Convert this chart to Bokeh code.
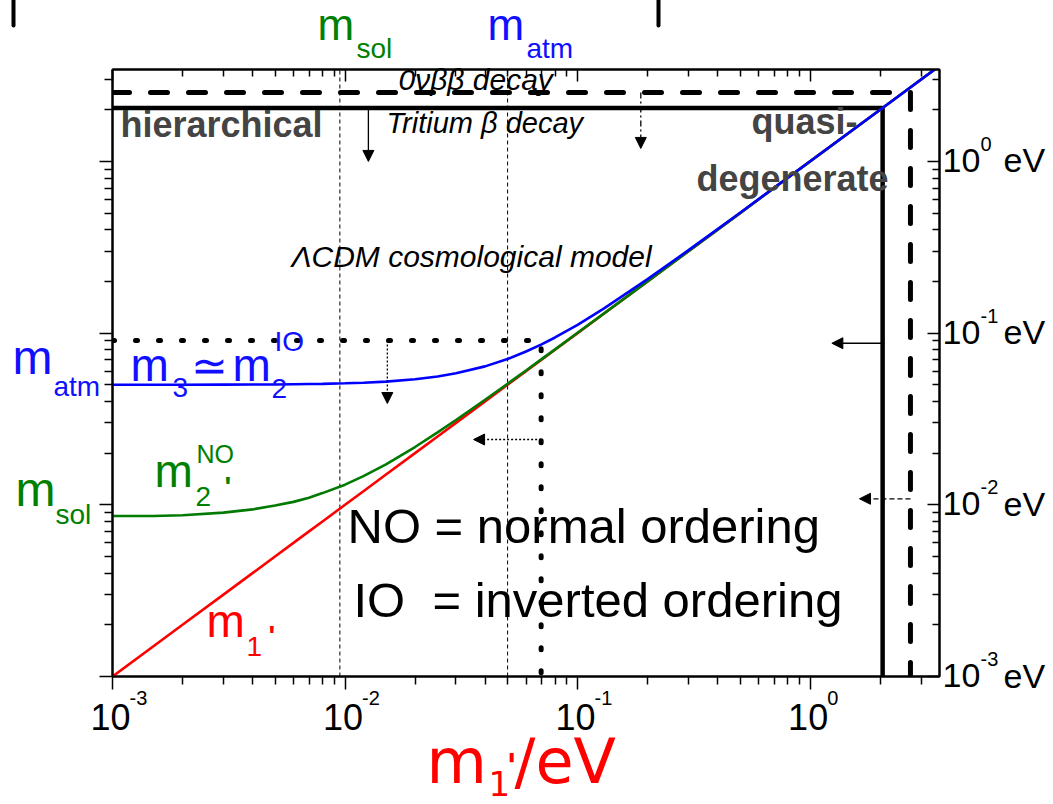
from bokeh.plotting import figure
from bokeh.models import LogAxis, FixedTicker, Arrow, NormalHead, BasicTickFormatter
from bokeh.core.properties import value
from bokeh.embed import file_html
from bokeh.resources import INLINE
import math

# ---------------- data ----------------
m_lightest = [0.001, 0.0015, 0.002, 0.003, 0.004, 0.005, 0.006, 0.007, 0.008, 0.01,
              0.012, 0.015, 0.02, 0.025, 0.03, 0.04, 0.05, 0.06, 0.07, 0.08, 0.1,
              0.13, 0.2, 0.3, 0.5, 1.0, 2.0, 3.6]
m1_values = [0.001, 0.0015, 0.002, 0.003, 0.004, 0.005, 0.006, 0.007, 0.008, 0.01,
             0.012, 0.015, 0.02, 0.025, 0.03, 0.04, 0.05, 0.06, 0.07, 0.08, 0.1,
             0.13, 0.2, 0.3, 0.5, 1.0, 2.0, 3.6]
m2_values = [0.0086, 0.0086, 0.0087, 0.0090, 0.0094, 0.0099, 0.0104, 0.0110, 0.0117, 0.0131,
             0.0147, 0.0172, 0.0217, 0.0264, 0.0312, 0.0409, 0.0507, 0.0606, 0.0705, 0.0804, 0.1004,
             0.1303, 0.2002, 0.3001, 0.5001, 1.0, 2.0, 3.6]
m3_values = [0.0500, 0.0500, 0.0500, 0.0501, 0.0502, 0.0502, 0.0504, 0.0505, 0.0506, 0.0510,
             0.0514, 0.0522, 0.0539, 0.0559, 0.0583, 0.0640, 0.0707, 0.0781, 0.0860, 0.0943, 0.1118,
             0.1393, 0.2062, 0.3041, 0.5025, 1.0012, 2.0006, 3.6]

x_ticks = [1e-3, 1e-2, 1e-1, 1e0]
y_ticks = [1e-3, 1e-2, 1e-1, 1e0]
tick_exponents = ["-3", "-2", "-1", "0"]

guide_masses = [0.0095, 0.050]           # m_sol, m_atm guides
tritium_limit = [2.05, 2.05]             # x, y corner
bb0nu_limit = [2.7, 2.52]                # x, y corner
cosmo_limit = [0.0697, 0.0907]           # x, y corner

X0, X1 = 1e-3, 3.6
Y0, Y1 = 1e-3, 3.43

# ---------------- figure ----------------
FL, FT, FW, FH = 112, 69, 827, 607
W, H = 1053, 804
p = figure(width=W, height=H, x_axis_type="log", y_axis_type="log",
           x_range=(X0, X1), y_range=(Y0, Y1), output_backend="svg",
           toolbar_location=None, min_border_left=FL, min_border_top=FT,
           min_border_right=W - FL - FW, min_border_bottom=H - FT - FH)
p.grid.visible = False
p.outline_line_color = "black"
p.outline_line_width = 2
p.background_fill_color = "white"
p.border_fill_color = "white"

lx0, lx1, ly0, ly1 = math.log10(X0), math.log10(X1), math.log10(Y0), math.log10(Y1)


def X(px):
    return 10 ** (lx0 + (px - FL) / FW * (lx1 - lx0))


def Y(py):
    return 10 ** (ly0 + (FT + FH - py) / FH * (ly1 - ly0))


def xp(v):
    return FL + (math.log10(v) - lx0) / (lx1 - lx0) * FW


def yp(v):
    return FT + FH - (math.log10(v) - ly0) / (ly1 - ly0) * FH


minor = [k * 10 ** e for e in range(-3, 1) for k in range(2, 10)]
p.add_layout(LogAxis(), "above")
p.add_layout(LogAxis(), "right")
for ax in p.xaxis + p.yaxis:
    ax.ticker = FixedTicker(ticks=x_ticks, minor_ticks=minor)
    ax.formatter = BasicTickFormatter()
    ax.major_label_text_color = None
    ax.major_label_text_font_size = "1px"
    ax.axis_line_width = 2
    ax.major_tick_line_width = 1.5
    ax.minor_tick_line_width = 1.5
for ax in p.below + p.left:
    if isinstance(ax, LogAxis):
        ax.major_tick_out, ax.major_tick_in = 13, 0
        ax.minor_tick_out, ax.minor_tick_in = 8, 0
for ax in p.above + p.right:
    if isinstance(ax, LogAxis):
        ax.major_tick_out, ax.major_tick_in = 0, 12
        ax.minor_tick_out, ax.minor_tick_in = 0, 7

# ---------------- boundary lines ----------------
p.segment(x0=guide_masses, y0=[Y0, Y0], x1=guide_masses, y1=[Y1, Y1],
          line_color="black", line_width=1, line_dash="4 3")
p.line([X0, tritium_limit[0], tritium_limit[0]], [tritium_limit[1], tritium_limit[1], Y0],
       line_color="black", line_width=4.5)
p.line([X0, bb0nu_limit[0], bb0nu_limit[0]], [bb0nu_limit[1], bb0nu_limit[1], Y0],
       line_color="black", line_width=5, line_dash="17 21", line_cap="round")
p.line([X0, cosmo_limit[0], cosmo_limit[0]], [cosmo_limit[1], cosmo_limit[1], Y0],
       line_color="black", line_width=5, line_dash="2 21", line_cap="round")

# ---------------- curves ----------------
p.line(m_lightest, m1_values, line_color="#ff0000", line_width=2.6)
p.line(m_lightest, m2_values, line_color="#007a00", line_width=2.6)
p.line(m_lightest, m3_values, line_color="#0000ff", line_width=2.6)


# ---------------- arrows ----------------
def arrow(xs, ys, xe, ye, dash="solid", lw=1.3, size=11):
    p.add_layout(Arrow(end=NormalHead(size=size, fill_color="black", line_color="black", line_width=1),
                       x_start=xs, y_start=ys, x_end=xe, y_end=ye,
                       line_color="black", line_width=lw, line_dash=dash))


arrow(0.0126, tritium_limit[1], 0.0126, 1.0)
arrow(0.187, bb0nu_limit[1], 0.187, 1.19, dash="6 3 2 3")
arrow(0.0152, cosmo_limit[1], 0.0152, 0.0389, dash="2 2")
arrow(cosmo_limit[0], 0.024, 0.0357, 0.024, dash="2 2")
arrow(tritium_limit[0], 0.0873, 1.24, 0.0873)
arrow(bb0nu_limit[0], 0.01084, 1.63, 0.01084, dash="5 3")

# slide marks at the very top (outside the frame)
p.segment(x0=[X(13), X(658)], y0=[Y(0), Y(0)], x1=[X(13), X(658)], y1=[Y(25), Y(25)],
          line_color="black", line_width=4, line_cap="round", level="overlay")


# ---------------- text ----------------
BASE_SHIFT = 0.38   # renderer puts the alphabetic baseline this far (in em) lower


def txt(px, py, text, size, color="black", style="normal", font="Liberation Sans", align="left"):
    p.text(x=[X(px)], y=[Y(py - BASE_SHIFT * size)], text=[text], text_font=value(font),
           text_font_size=value(f"{size}px"), text_color=color,
           text_font_style=style, text_align=align, text_baseline="alphabetic",
           level="overlay")


# tick labels bottom
for t, e in zip(x_ticks, tick_exponents):
    txt(xp(t) - 2, 730, "10", 36, align="center")
    txt(xp(t) + 17, 705, e, 20)
# tick labels right
for t, e in zip(y_ticks, tick_exponents):
    txt(FL + FW + 3, yp(t) + 12, "10", 34)
    txt(FL + FW + 41, yp(t) - 10, e, 20)
    txt(FL + FW + 64, yp(t) + 12, "eV", 34)

BLUE, GREEN, RED, GRAY = "#1010ff", "#008000", "#ff0000", "#444444"

# top labels
txt(317, 41, "m", 44, GREEN)
txt(356, 59, "sol", 28, GREEN)
txt(487, 41, "m", 44, BLUE)
txt(526, 59, "atm", 28, BLUE)

# left labels
txt(12, 375, "m", 48, BLUE)
txt(53, 397, "atm", 28, BLUE)
txt(15, 507, "m", 48, GREEN)
txt(55, 525, "sol", 28, GREEN)

# region labels
txt(120, 138, "hierarchical", 36, GRAY, "bold")
txt(751, 135, "quasi-", 36, GRAY, "bold")
txt(696, 192, "degenerate", 36, GRAY, "bold")
txt(398, 90, "0νββ decay", 30, style="italic")
txt(386, 134, "Tritium β decay", 29, style="italic")
txt(291, 267, "ΛCDM cosmological model", 30, style="italic")

# curve labels
txt(130, 382, "m", 46, BLUE)
txt(172, 398, "3", 28, BLUE)
txt(190, 382, "≃", 44, BLUE)
txt(232, 382, "m", 46, BLUE)
txt(271, 399, "2", 28, BLUE)
txt(274, 352, "IO", 28, BLUE)

txt(154, 488, "m", 46, GREEN)
txt(195, 507, "2", 28, GREEN)
txt(196, 463, "NO", 25, GREEN)
txt(224, 497, "'", 28, GREEN, "bold")

txt(206, 638, "m", 46, RED)
txt(246, 657, "1", 28, RED)
txt(268, 646, "'", 28, RED, "bold")

txt(347, 544, "NO = normal ordering", 49)
txt(353, 618, "IO \u00a0= inverted ordering", 49)

# x axis title
txt(426, 785, "m", 62, RED, font="DejaVu Sans")
txt(488, 796, "1", 34, RED, font="DejaVu Sans")
txt(506, 778, "'", 34, RED, "bold", font="DejaVu Sans")
txt(514, 785, "/eV", 62, RED, font="DejaVu Sans")

open("out.html", "w").write(file_html(p, INLINE))
